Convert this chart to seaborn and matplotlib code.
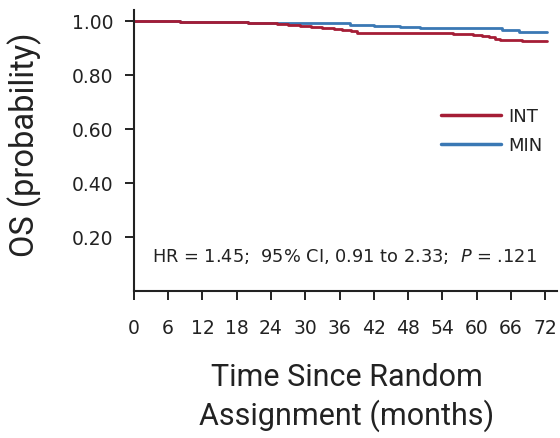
import matplotlib
matplotlib.use("Agg")
import matplotlib.pyplot as plt
import seaborn as sns
import pandas as pd

# Kaplan-Meier style step curves
int_time = [0, 4, 8, 12, 16, 20, 23, 25, 27, 29, 31, 33, 35, 36.5, 38, 39, 44, 50, 55.8, 57.5, 59.3, 61, 62.2, 63.2, 64, 66, 68, 72.4]
int_surv = [1.0, 0.999, 0.998, 0.997, 0.995, 0.993, 0.991, 0.988, 0.985, 0.982, 0.978, 0.975, 0.971, 0.967, 0.962, 0.957, 0.957, 0.957, 0.953, 0.950, 0.947, 0.943, 0.939, 0.934, 0.930, 0.929, 0.927, 0.926]

min_time = [0, 4, 8, 12, 16, 20, 23, 27, 31, 35, 37.8, 42, 46.5, 50, 55, 60, 64.5, 65.5, 67.4, 70, 72.4]
min_surv = [1.0, 0.999, 0.998, 0.997, 0.995, 0.993, 0.992, 0.992, 0.992, 0.992, 0.984, 0.983, 0.976, 0.974, 0.973, 0.973, 0.968, 0.965, 0.961, 0.959, 0.958]

x_ticks = [0, 6, 12, 18, 24, 30, 36, 42, 48, 54, 60, 66, 72]
y_ticks = [0.20, 0.40, 0.60, 0.80, 1.00]
arms = ["INT", "MIN"]
colors = {"INT": "#a51d36", "MIN": "#3a78b4"}

df = pd.concat([
    pd.DataFrame({"time": int_time, "surv": int_surv, "arm": "INT"}),
    pd.DataFrame({"time": min_time, "surv": min_surv, "arm": "MIN"}),
])

sns.set_style("ticks")
plt.rcParams["font.family"] = ["DejaVu Sans"]
plt.rcParams["mathtext.fontset"] = "dejavusans"
txt = "#222222"

fig = plt.figure(figsize=(5.6, 4.39), dpi=100)
ax = fig.add_axes([0.239, 0.335, 0.755, 0.6395])

sns.lineplot(data=df, x="time", y="surv", hue="arm", hue_order=arms[::-1], palette=colors,
             drawstyle="steps-post", linewidth=2.0, ax=ax, legend=False, estimator=None)

ax.set_xlim(0, 74)
ax.set_ylim(0, 1.04)
ax.set_xticks(x_ticks)
ax.set_yticks(y_ticks)
ax.set_yticklabels(["{:.2f}".format(v) for v in y_ticks])
ax.tick_params(axis="both", length=6.5, width=1.4, colors=txt, labelsize=13.5)
ax.tick_params(axis="y", pad=8.5)
ax.tick_params(axis="x", pad=13)
for s in ["top", "right"]:
    ax.spines[s].set_visible(False)
for s in ["left", "bottom"]:
    ax.spines[s].set_linewidth(1.5)
    ax.spines[s].set_color(txt)

ax.set_xlabel("Time Since Random\nAssignment (months)", family=["Roboto", "DejaVu Sans"],
              fontsize=22, color=txt, linespacing=1.3)
ax.xaxis.set_label_coords(0.503, -0.253)
ax.set_ylabel("OS (probability)", family=["Roboto", "DejaVu Sans"], fontsize=23.5, color=txt)
ax.yaxis.set_label_coords(-0.218, 0.525)

handles = [plt.Line2D([], [], color=colors[a], linewidth=2.5) for a in arms]
leg = ax.legend(handles, arms, frameon=False, loc="upper right", bbox_to_anchor=(1.006, 0.712),
                fontsize=13, handlelength=3.3, handletextpad=0.45, labelspacing=0.6)
for t in leg.get_texts():
    t.set_color(txt)

ax.text(3.2, 0.13, "HR = 1.45;  95% CI, 0.91 to 2.33;  $\\it{P}$ = .121", fontsize=12.8,
        color=txt, ha="left", va="center")

fig.savefig("out.png", dpi=100)
